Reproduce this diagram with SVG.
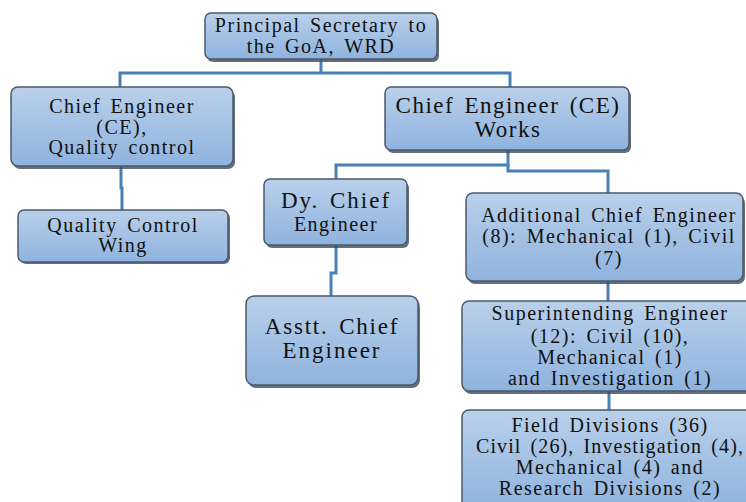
<svg xmlns="http://www.w3.org/2000/svg" width="746" height="502" viewBox="0 0 746 502">
<defs>
<linearGradient id="g" x1="0" y1="0" x2="0" y2="1">
<stop offset="0" stop-color="#b9d0ea"/>
<stop offset="1" stop-color="#8fb3de"/>
</linearGradient>
<style>
.box{fill:url(#g);stroke:#4a5a6c;stroke-width:1.5}
.sh{fill:#3e4b5a;opacity:0.8}
.con{fill:none;stroke:#4a80b8;stroke-width:3}
.t{fill:#111;text-anchor:middle;letter-spacing:1.5px;word-spacing:3px}
</style>
</defs>
<rect width="746" height="502" fill="#fff"/>
<g id="connectors">
<path class="con" d="M321 60 V73 M120 87 V73 H510 V87"/>
<path class="con" d="M121 167 V188 H122 V210"/>
<path class="con" d="M508 151 V165 H336 V179"/>
<path class="con" d="M508 165 V171 H608 V193"/>
<path class="con" d="M336 246 V273 H331 V296"/>
<path class="con" d="M608 282 V301"/>
<path class="con" d="M609 392 V410"/>
</g>
<g font-family="'Liberation Serif', 'Times New Roman', Times, serif" font-size="20">
<g id="n_principal">
<rect class="sh" x="207" y="16" width="232" height="46" rx="6"/>
<rect class="box" x="205" y="13" width="232" height="46" rx="6"/>
<text class="t" x="321" y="32">Principal Secretary to</text>
<text class="t" x="321" y="53">the GoA, WRD</text>
</g>
<g id="n_ce_qc">
<rect class="sh" x="13" y="90" width="222" height="79" rx="7"/>
<rect class="box" x="11" y="87" width="222" height="79" rx="7"/>
<text class="t" x="122" y="113">Chief Engineer</text>
<text class="t" x="122" y="134">(CE),</text>
<text class="t" x="122" y="154">Quality control</text>
</g>
<g id="n_qcw">
<rect class="sh" x="20" y="212" width="210" height="52" rx="6"/>
<rect class="box" x="18" y="210" width="210" height="52" rx="6"/>
<text class="t" x="123" y="232">Quality Control</text>
<text class="t" x="123" y="252">Wing</text>
</g>
<g id="n_ce_works" font-size="23">
<rect class="sh" x="387" y="90" width="244" height="63" rx="6"/>
<rect class="box" x="385" y="87" width="244" height="63" rx="6"/>
<text class="t" x="508" y="113">Chief Engineer (CE)</text>
<text class="t" x="508" y="137">Works</text>
</g>
<g id="n_dy">
<rect class="sh" x="266" y="182" width="143" height="66" rx="6"/>
<rect class="box" x="264" y="179" width="143" height="66" rx="6"/>
<text class="t" x="336" y="208" font-size="23" style="letter-spacing:2px">Dy. Chief</text>
<text class="t" x="336" y="231" font-size="20">Engineer</text>
</g>
<g id="n_add">
<rect class="sh" x="468" y="196" width="277" height="88" rx="7"/>
<rect class="box" x="466" y="193" width="277" height="88" rx="7"/>
<text class="t" x="609" y="222">Additional Chief Engineer</text>
<text class="t" x="609" y="243">(8): Mechanical (1), Civil</text>
<text class="t" x="609" y="265">(7)</text>
</g>
<g id="n_asst" font-size="23">
<rect class="sh" x="248" y="299" width="172" height="89" rx="8"/>
<rect class="box" x="246" y="296" width="172" height="89" rx="8"/>
<text class="t" x="332" y="334" style="letter-spacing:1.8px">Asstt. Chief</text>
<text class="t" x="332" y="358" style="letter-spacing:2px">Engineer</text>
</g>
<g id="n_se">
<rect class="sh" x="464" y="304" width="290" height="90" rx="7"/>
<rect class="box" x="462" y="301" width="290" height="90" rx="7"/>
<text class="t" x="610" y="320">Superintending Engineer</text>
<text class="t" x="610" y="343">(12): Civil (10),</text>
<text class="t" x="610" y="364">Mechanical (1)</text>
<text class="t" x="610" y="385">and Investigation (1)</text>
</g>
<g id="n_field">
<rect class="sh" x="464" y="413" width="290" height="100" rx="7"/>
<rect class="box" x="462" y="410" width="290" height="100" rx="7"/>
<text class="t" x="610" y="432">Field Divisions (36)</text>
<text class="t" x="610" y="453" style="letter-spacing:1.1px">Civil (26), Investigation (4),</text>
<text class="t" x="610" y="474">Mechanical (4) and</text>
<text class="t" x="610" y="495">Research Divisions (2)</text>
</g>
</g>
</svg>
